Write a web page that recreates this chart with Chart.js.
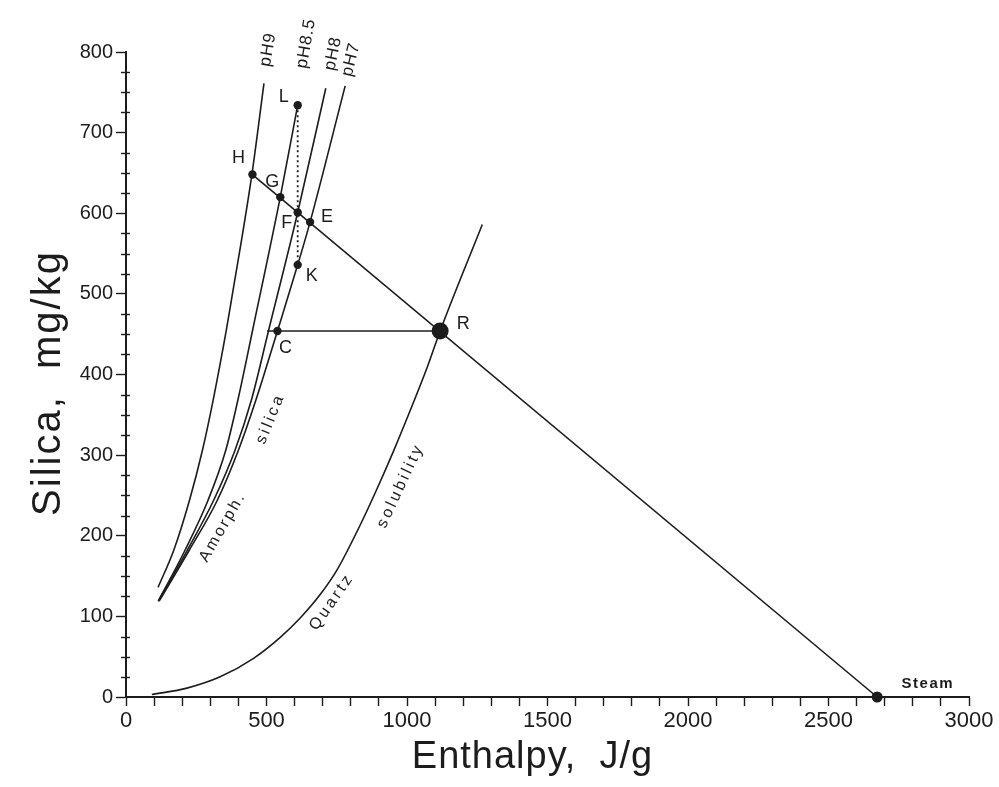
<!DOCTYPE html>
<html>
<head>
<meta charset="utf-8">
<script src="https://cdn.jsdelivr.net/npm/chart.js@4.4.1/dist/chart.umd.min.js"></script>
<style>
    html, body { margin: 0; padding: 0; background: #fff; }
    #wrap { width: 999px; height: 787px; }
</style>
</head>
<body>
<div id="wrap"><canvas id="chart" width="999" height="787"></canvas></div>
<script>
// Enthalpy (J/g) / silica (mg/kg) pairs
const ph9Enthalpy = [114, 170, 226, 272, 310, 357, 375, 448, 491];
const ph9Silica = [136, 182, 244, 306, 368, 455, 492, 648, 761];

const ph85Enthalpy = [115, 210, 292, 355, 398, 450, 549, 611];
const ph85Silica = [119, 182, 244, 306, 368, 454, 620, 734];

const ph8Enthalpy = [115, 218, 312, 388, 446, 507, 611, 711];
const ph8Silica = [119, 182, 244, 306, 368, 454, 601, 755];

const ph7Enthalpy = [118, 225, 325, 400, 462, 539, 611, 655, 780];
const ph7Silica = [119, 182, 244, 306, 368, 454, 536, 589, 758];

const quartzEnthalpy = [92, 217, 335, 454, 549, 620, 691, 750, 833, 893, 952, 1011, 1071, 1118, 1268];
const quartzSilica = [3, 11, 25, 48, 74, 98, 127, 157, 213, 258, 305, 355, 408, 454, 586];

// mixing line H -> steam, cooling line C -> R, dotted L -> K
const mixEnthalpy = [450, 2673];
const mixSilica = [648, 0];
const coolEnthalpy = [502, 1118];
const coolSilica = [454, 454];
const dotEnthalpy = [611, 611];
const dotSilica = [734, 536];

// labelled points
const pointNames = ['H', 'G', 'F', 'E', 'L', 'K', 'C', 'R', 'Steam'];
const pointEnthalpy = [450, 549, 611, 655, 611, 611, 539, 1118, 2673];
const pointSilica = [648, 620, 601, 589, 734, 536, 454, 454, 0];

// axis ticks
const xTickStep = 100;
const xLabelStep = 500;
const yMajorStep = 100;
const yMinorStep = 25;

const ink = '#1c1c1c';
const font = "'Liberation Sans', Arial, sans-serif";

function pts(xs, ys) {
    return xs.map((v, i) => ({ x: v, y: ys[i] }));
}

function curve(xs, ys, extra) {
    return Object.assign({
        data: pts(xs, ys),
        showLine: true,
        borderColor: ink,
        borderWidth: 1.6,
        pointRadius: 0,
        cubicInterpolationMode: 'monotone',
        clip: false
    }, extra || {});
}

// label offsets (px) from each marked point
const pointLabelOffsets = {
    H: [-14, -17], G: [-8, -15], F: [-11, 11], E: [17, -5], L: [-14, -8],
    K: [14, 11], C: [8, 17], R: [23, -7], Steam: [50, -13]
};

function drawText(ctx, str, cx, cy, angle, f, spacing) {
    ctx.save();
    ctx.translate(cx, cy);
    ctx.rotate(angle * Math.PI / 180);
    ctx.font = f;
    ctx.letterSpacing = (spacing || 0) + 'px';
    ctx.textAlign = 'center';
    ctx.textBaseline = 'middle';
    ctx.fillStyle = ink;
    ctx.fillText(str, (spacing || 0) / 2, 0);
    ctx.restore();
}

const figureText = {
    id: 'figureText',
    afterDraw(chart) {
        const { ctx, scales: { x, y } } = chart;
        ctx.save();

        // minor ticks on the silica axis
        ctx.strokeStyle = ink;
        ctx.lineWidth = 1.4;
        for (let v = yMinorStep; v < y.max; v += yMinorStep) {
            if (v % yMajorStep === 0) continue;
            const py = Math.round(y.getPixelForValue(v)) + 0.5;
            ctx.beginPath();
            ctx.moveTo(x.left - 5, py);
            ctx.lineTo(x.left + 4, py);
            ctx.stroke();
        }

        // point letters
        pointNames.forEach((name, i) => {
            const px = x.getPixelForValue(pointEnthalpy[i]);
            const py = y.getPixelForValue(pointSilica[i]);
            const off = pointLabelOffsets[name];
            if (name === 'Steam') {
                drawText(ctx, name, px + off[0], py + off[1], 0, 'bold 15px ' + font, 1.5);
            } else {
                drawText(ctx, name, px + off[0], py + off[1], 0, '18px ' + font, 0);
            }
        });

        // curve names
        drawText(ctx, 'pH9', 268, 50, -80, '17px ' + font, 1);
        drawText(ctx, 'pH8.5', 306, 44, -80, '17px ' + font, 1);
        drawText(ctx, 'pH8', 333, 54, -78, '17px ' + font, 1);
        drawText(ctx, 'pH7', 351, 60, -76, '17px ' + font, 1);
        drawText(ctx, 'Amorph.', 222, 528, -60, '16px ' + font, 2.5);
        drawText(ctx, 'silica', 270, 420, -68, '16px ' + font, 3);
        drawText(ctx, 'Quartz', 331, 603, -55, '16px ' + font, 3);
        drawText(ctx, 'solubility', 400, 487, -65, '16px ' + font, 3);

        // axis titles
        drawText(ctx, 'Silica,  mg/kg', 49, 384, -90, '40px ' + font, 2);
        drawText(ctx, 'Enthalpy,  J/g', 532, 758, 0, '38px ' + font, 1);

        ctx.restore();
    }
};

const ctx = document.getElementById('chart').getContext('2d');
new Chart(ctx, {
    type: 'scatter',
    data: {
        datasets: [
            curve(ph9Enthalpy, ph9Silica),
            curve(ph85Enthalpy, ph85Silica),
            curve(ph8Enthalpy, ph8Silica),
            curve(ph7Enthalpy, ph7Silica),
            curve(quartzEnthalpy, quartzSilica),
            curve(mixEnthalpy, mixSilica, { cubicInterpolationMode: 'default' }),
            curve(coolEnthalpy, coolSilica, { cubicInterpolationMode: 'default' }),
            curve(dotEnthalpy, dotSilica, { cubicInterpolationMode: 'default', borderDash: [2, 3], borderWidth: 1.8 }),
            {
                data: pts(pointEnthalpy, pointSilica),
                showLine: false,
                backgroundColor: ink,
                borderColor: ink,
                borderWidth: 0,
                pointRadius: pointNames.map(n => n === 'R' ? 8.5 : (n === 'Steam' ? 5.5 : 4.2)),
                clip: false
            }
        ]
    },
    options: {
        responsive: false,
        animation: false,
        events: [],
        layout: { padding: { top: 52, right: 30, left: 0, bottom: 0 } },
        plugins: { legend: { display: false }, tooltip: { enabled: false } },
        scales: {
            x: {
                type: 'linear',
                min: 0,
                max: 3000,
                ticks: {
                    stepSize: xTickStep,
                    autoSkip: false,
                    maxRotation: 0,
                    padding: 2,
                    color: ink,
                    font: { family: "'Liberation Sans Narrow', 'Liberation Sans', Arial, sans-serif", size: 22 },
                    callback: v => (v % xLabelStep === 0 ? v : '')
                },
                grid: { drawOnChartArea: false, tickLength: 9, tickWidth: 1.4, tickColor: ink },
                border: { color: ink, width: 2 },
                afterFit: s => { s.height = 90; }
            },
            y: {
                type: 'linear',
                min: 0,
                max: 800,
                ticks: {
                    stepSize: yMajorStep,
                    padding: 3,
                    color: ink,
                    font: { family: font, size: 20 }
                },
                grid: { drawOnChartArea: false, tickLength: 10, tickWidth: 1.4, tickColor: ink },
                border: { color: ink, width: 2 },
                afterFit: s => { s.width = 126; }
            }
        }
    },
    plugins: [figureText]
});
</script>
</body>
</html>
